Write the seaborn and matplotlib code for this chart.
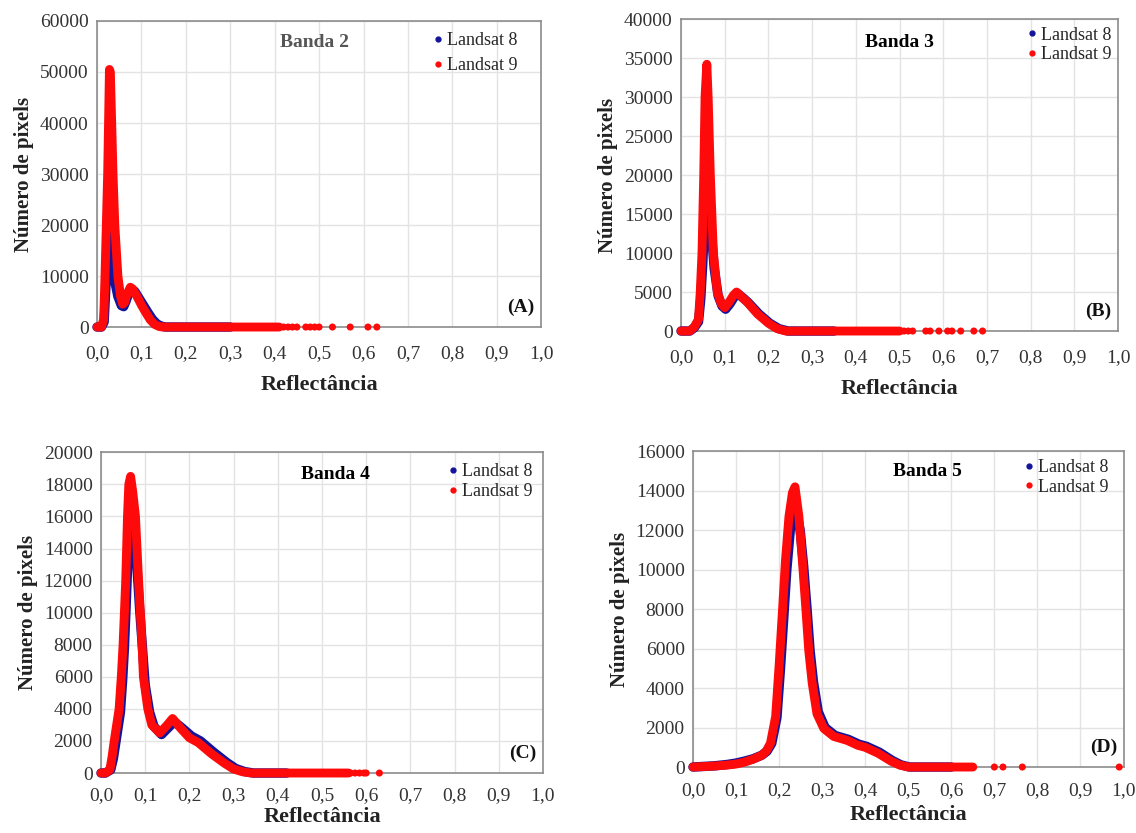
import numpy as np
import pandas as pd
import matplotlib
matplotlib.use("Agg")
import matplotlib.pyplot as plt
from matplotlib.lines import Line2D
from matplotlib.ticker import FuncFormatter, MultipleLocator
import seaborn as sns

# ---------------- data ----------------
# Banda 2
b2_l9_x = [0.000, 0.010, 0.015, 0.018, 0.021, 0.024, 0.026, 0.028, 0.030, 0.033, 0.036, 0.040, 0.047,
           0.053, 0.058, 0.062, 0.068, 0.075, 0.080, 0.090, 0.100, 0.110, 0.120, 0.130, 0.140, 0.150,
           0.200, 0.300, 0.410]
b2_l9_y = [0, 0, 1500, 10000, 20000, 30000, 40000, 50500, 50000, 40000, 30000, 20000, 10000,
           6000, 4500, 4800, 6500, 7800, 7500, 6000, 4300, 2800, 1400, 500, 100, 0,
           0, 0, 0]
b2_l8_x = [0.000, 0.010, 0.016, 0.020, 0.024, 0.028, 0.031, 0.035, 0.040, 0.047, 0.055, 0.060, 0.065,
           0.072, 0.078, 0.085, 0.095, 0.105, 0.115, 0.125, 0.135, 0.145, 0.155, 0.300]
b2_l8_y = [0, 0, 1000, 8000, 17000, 25000, 22000, 15000, 9000, 6000, 4200, 4000, 5000,
           6800, 7400, 7000, 5600, 4200, 2800, 1500, 600, 150, 0, 0]
b2_tail_x = [0.42, 0.43, 0.44, 0.45, 0.47, 0.48, 0.49, 0.50, 0.53, 0.57, 0.61, 0.63]

# Banda 3
b3_l9_x = [0.000, 0.020, 0.030, 0.040, 0.044, 0.048, 0.052, 0.055, 0.059, 0.062, 0.067, 0.074, 0.083,
           0.092, 0.100, 0.110, 0.120, 0.127, 0.140, 0.150, 0.175, 0.200, 0.220, 0.240, 0.350, 0.500]
b3_l9_y = [0, 0, 500, 1500, 5000, 10000, 20000, 30000, 34200, 30000, 20000, 10000, 5000,
           3500, 3000, 3700, 4600, 5000, 4300, 3800, 2200, 1000, 300, 0, 0, 0]
b3_l8_x = [0.000, 0.020, 0.030, 0.040, 0.045, 0.050, 0.055, 0.060, 0.064, 0.069, 0.076, 0.085,
           0.094, 0.102, 0.112, 0.122, 0.130, 0.143, 0.153, 0.178, 0.203, 0.224, 0.245, 0.350]
b3_l8_y = [0, 0, 400, 1200, 4000, 9000, 16000, 22000, 19000, 13000, 8000, 4500,
           3200, 2800, 3500, 4400, 4800, 4200, 3700, 2200, 1000, 300, 0, 0]
b3_tail_x = [0.51, 0.52, 0.53, 0.56, 0.57, 0.59, 0.61, 0.62, 0.64, 0.67, 0.69]

# Banda 4
b4_l9_x = [0.000, 0.010, 0.020, 0.025, 0.030, 0.041, 0.046, 0.050, 0.053, 0.056, 0.058, 0.060, 0.063,
           0.067, 0.072, 0.078, 0.085, 0.093, 0.096, 0.106, 0.115, 0.133, 0.150, 0.162, 0.180, 0.200,
           0.220, 0.250, 0.280, 0.300, 0.320, 0.340, 0.450, 0.560]
b4_l9_y = [0, 0, 200, 1000, 2000, 4000, 6000, 8000, 10000, 12000, 14000, 16000, 18000,
           18500, 17500, 16000, 12000, 8000, 6000, 4000, 3000, 2500, 3000, 3400, 2800, 2200,
           1900, 1200, 600, 250, 80, 0, 0, 0]
b4_l8_x = [0.000, 0.010, 0.022, 0.028, 0.033, 0.044, 0.049, 0.053, 0.057, 0.061, 0.066, 0.070,
           0.075, 0.081, 0.088, 0.096, 0.100, 0.110, 0.120, 0.137, 0.155, 0.166, 0.184, 0.205,
           0.225, 0.255, 0.285, 0.305, 0.325, 0.345, 0.420]
b4_l8_y = [0, 0, 200, 900, 1800, 3800, 5800, 7800, 10500, 13500, 15500, 15000,
           14500, 13000, 10000, 7000, 5500, 3800, 2900, 2400, 2900, 3200, 2800, 2300,
           2000, 1300, 650, 280, 90, 0, 0]
b4_tail_x = [0.565, 0.575, 0.585, 0.595, 0.60, 0.63]

# Banda 5
b5_l9_x = [0.000, 0.050, 0.080, 0.100, 0.120, 0.140, 0.160, 0.170, 0.180, 0.192, 0.200, 0.208,
           0.215, 0.223, 0.231, 0.237, 0.246, 0.254, 0.262, 0.269, 0.277, 0.288, 0.304, 0.327,
           0.358, 0.383, 0.400, 0.430, 0.460, 0.480, 0.500, 0.650]
b5_l9_y = [0, 50, 100, 150, 250, 400, 600, 800, 1200, 2550, 5100, 7950,
           10500, 12700, 13900, 14200, 12700, 10500, 8100, 5900, 4250, 2700, 1950, 1550,
           1350, 1100, 1000, 700, 300, 100, 0, 0]
b5_l8_x = [0.000, 0.050, 0.080, 0.100, 0.120, 0.140, 0.160, 0.172, 0.183, 0.195, 0.203, 0.211,
           0.218, 0.226, 0.234, 0.240, 0.249, 0.257, 0.265, 0.272, 0.280, 0.291, 0.307, 0.330,
           0.361, 0.386, 0.403, 0.433, 0.463, 0.483, 0.503, 0.600]
b5_l8_y = [0, 60, 130, 200, 300, 420, 600, 800, 1200, 2500, 4900, 7600,
           10000, 12000, 12900, 13000, 12000, 10200, 8000, 5900, 4300, 2800, 2000, 1600,
           1400, 1150, 1050, 750, 330, 110, 0, 0]
b5_tail_x = [0.70, 0.72, 0.765, 0.99]

bands = ["Banda 2", "Banda 3", "Banda 4", "Banda 5"]
panel_tags = ["(A)", "(B)", "(C)", "(D)"]
y_max = [60000, 40000, 20000, 16000]
y_step = [10000, 5000, 2000, 2000]
series_names = ["Landsat 8", "Landsat 9"]

# ---------------- style ----------------
sns.set_theme(style="whitegrid")
plt.rcParams["font.family"] = ["Liberation Serif", "DejaVu Serif"]

BLUE = "#14149a"
RED = "#ff0a0a"
GRID = "#e3e3e3"
SPINE = "#8c8c8c"
TICK = "#333333"

fig = plt.figure(figsize=(11.36, 8.33), dpi=100)

# axes boxes [left, bottom, width, height]
boxes = [
    [0.0854, 0.6074, 0.3910, 0.3674],
    [0.5995, 0.6026, 0.3847, 0.3745],
    [0.0889, 0.0720, 0.3890, 0.3850],
    [0.6100, 0.0792, 0.3790, 0.3790],
]
title_pos = [(0.49, 0.93), (0.50, 0.925), (0.53, 0.93), (0.545, 0.935)]
title_col = ["#555555", "black", "black", "black"]
legend_anchor = [(0.97, 1.0), (1.01, 1.01), (1.0, 1.0), (0.99, 1.01)]
legend_spacing = [0.45, 0.15, 0.15, 0.15]
xtick_pad = [13, 13, 10, 11]
xlabel_pad = [9, 9, 2, 4]

curves = [
    (b2_l8_x, b2_l8_y, b2_l9_x, b2_l9_y, b2_tail_x),
    (b3_l8_x, b3_l8_y, b3_l9_x, b3_l9_y, b3_tail_x),
    (b4_l8_x, b4_l8_y, b4_l9_x, b4_l9_y, b4_tail_x),
    (b5_l8_x, b5_l8_y, b5_l9_x, b5_l9_y, b5_tail_x),
]

fmt_x = FuncFormatter(lambda v, p: f"{v:.1f}".replace(".", ","))
fmt_y = FuncFormatter(lambda v, p: f"{int(round(v))}")

for i, box in enumerate(boxes):
    ax = fig.add_axes(box)
    l8x, l8y, l9x, l9y, tx = curves[i]
    d8 = pd.DataFrame({"x": l8x, "y": l8y})
    d9 = pd.DataFrame({"x": l9x, "y": l9y})
    dt = pd.DataFrame({"x": tx, "y": [0] * len(tx)})
    sns.lineplot(data=d8, x="x", y="y", ax=ax, color=BLUE, linewidth=6.8,
                 solid_capstyle="round", solid_joinstyle="round", sort=False, zorder=3,
                 clip_on=False)
    sns.lineplot(data=d9, x="x", y="y", ax=ax, color=RED, linewidth=6.4,
                 solid_capstyle="round", solid_joinstyle="round", sort=False, zorder=4,
                 clip_on=False)
    sns.scatterplot(data=dt, x="x", y="y", ax=ax, color=RED, s=26, edgecolor="none",
                    zorder=4, clip_on=False)

    ax.set_xlim(0, 1.0)
    ax.set_ylim(0, y_max[i])
    ax.xaxis.set_major_locator(MultipleLocator(0.1))
    ax.yaxis.set_major_locator(MultipleLocator(y_step[i]))
    ax.xaxis.set_major_formatter(fmt_x)
    ax.yaxis.set_major_formatter(fmt_y)
    ax.tick_params(axis="both", length=0, labelsize=14, colors=TICK)
    ax.tick_params(axis="x", pad=xtick_pad[i])
    ax.tick_params(axis="y", pad=6)
    ax.grid(True, color=GRID, linewidth=1.0)
    ax.set_axisbelow(True)
    for s in ax.spines.values():
        s.set_color(SPINE)
        s.set_linewidth(1.2)
        s.set_visible(True)

    ax.set_xlabel("Reflectância", fontsize=16, fontweight="bold", color="#222222",
                  labelpad=xlabel_pad[i])
    ax.set_ylabel("Número de pixels", fontsize=15, fontweight="bold", color="#222222", labelpad=4)

    ax.text(title_pos[i][0], title_pos[i][1], bands[i], transform=ax.transAxes,
            ha="center", va="center", fontsize=14, fontweight="bold", color=title_col[i])
    ax.text(0.985, 0.035, panel_tags[i], transform=ax.transAxes, ha="right", va="bottom",
            fontsize=14, fontweight="bold", color="#111111")

    handles = [Line2D([], [], linestyle="none", marker="o", markersize=3.5,
                      markerfacecolor=BLUE, markeredgecolor=BLUE),
               Line2D([], [], linestyle="none", marker="o", markersize=3.5,
                      markerfacecolor=RED, markeredgecolor=RED)]
    ax.legend(handles, series_names, loc="upper right", frameon=False, fontsize=13,
              handletextpad=0.0, borderaxespad=0.2, labelspacing=legend_spacing[i],
              handlelength=1.0, bbox_to_anchor=legend_anchor[i])

fig.savefig("out.png", dpi=100)
